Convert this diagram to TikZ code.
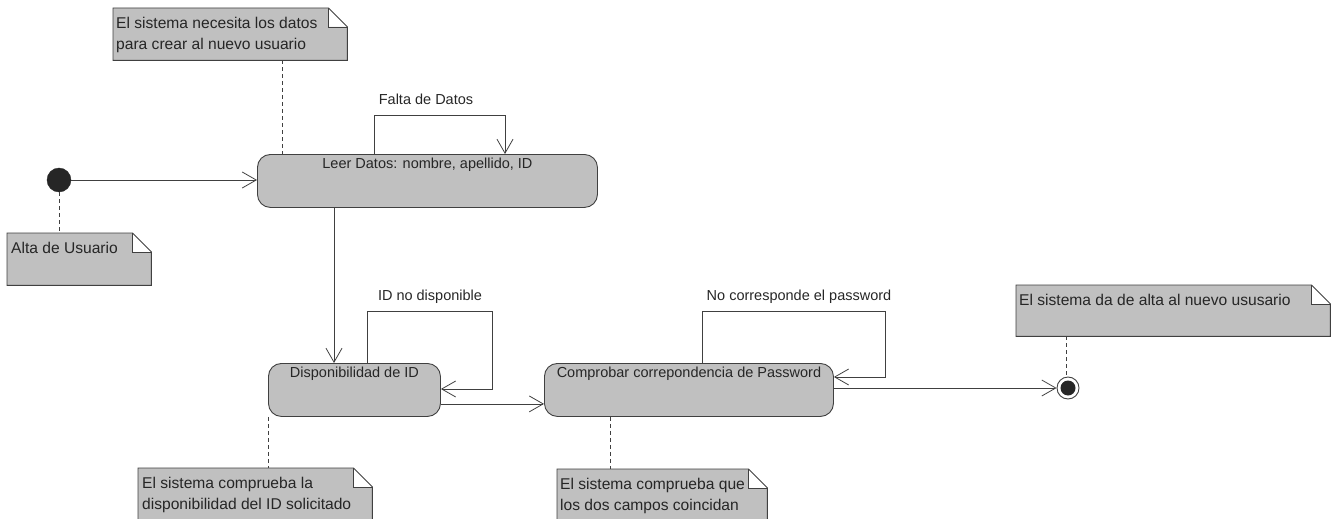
\documentclass[tikz,border=0pt]{standalone}
\usepackage{fontspec}
\setmainfont{Liberation Sans}
\usetikzlibrary{arrows.meta,calc}

\definecolor{stategray}{HTML}{C0C0C0}
\definecolor{edgegray}{HTML}{404040}
\definecolor{inkgray}{HTML}{262626}

% note with a folded top-right corner, drawn around an empty node
\newcommand\notefold[1]{%
  \path[fill=stategray] (#1.north west) -- ($(#1.north east)+(-19,0)$)
    -- ($(#1.north east)+(-19,19)$) -- ($(#1.north east)+(0,19)$)
    -- (#1.south east) -- (#1.south west) -- cycle;
  \draw[edgegray, line width=0.9pt] (#1.north west) -- ($(#1.north east)+(-19,0)$)
    -- ($(#1.north east)+(0,19)$) -- (#1.south east) -- (#1.south west) -- cycle;
  \draw[edgegray, line width=0.9pt] ($(#1.north east)+(-19,0)$) -- ++(0,19)
    -- ($(#1.north east)+(0,19)$);
}

\tikzset{
  x=1pt, y=-1pt,
  every node/.style={font=\fontsize{14.5}{20.5}\selectfont, text=inkgray},
  statebox/.style={draw=edgegray, fill=stategray, rounded corners=13pt, line width=0.9pt,
    inner xsep=0pt, inner ysep=4pt, text height=10pt, text depth=35pt, anchor=north west},
  notebox/.style={inner sep=0pt, anchor=north west},
  notetext/.style={anchor=north west, align=left, inner sep=0pt,
    font=\fontsize{15.6}{20.5}\selectfont},
  flow/.style={draw=edgegray, line width=0.8pt,
    -{Straight Barb[length=14pt,width=16pt,line width=0.8pt]}},
  anchorline/.style={draw=edgegray, line width=0.8pt, dash pattern=on 4pt off 3pt},
  edgelabel/.style={inner sep=0pt}
}

\begin{document}
\begin{tikzpicture}
\useasboundingbox (0,0) rectangle (1335,519);
\clip (0,0) rectangle (1335,519);

% notes
\node[notebox, minimum width=234pt, minimum height=52pt] (n1) at (113,8) {};
\node[notebox, minimum width=144pt, minimum height=52pt] (n2) at (7,233) {};
\node[notebox, minimum width=234pt, minimum height=60pt] (n3) at (138,468) {};
\node[notebox, minimum width=210pt, minimum height=60pt] (n4) at (557,469) {};
\node[notebox, minimum width=314pt, minimum height=51pt] (n5) at (1016,285) {};
\notefold{n1}
\notefold{n2}
\notefold{n3}
\notefold{n4}
\notefold{n5}
\node[notetext] (n1t) at ($(n1.north west)+(3,9)$) {\rule{0pt}{11pt}El sistema necesita los datos\\para crear al nuevo usuario};
\node[notetext] (n2t) at ($(n2.north west)+(4,9)$) {\rule{0pt}{11pt}Alta de Usuario};
\node[notetext] (n3t) at ($(n3.north west)+(4,9)$) {\rule{0pt}{11pt}El sistema comprueba la\\disponibilidad del ID solicitado};
\node[notetext] (n4t) at ($(n4.north west)+(3,9)$) {\rule{0pt}{11pt}El sistema comprueba que\\los dos campos coincidan};
\node[notetext] (n5t) at ($(n5.north west)+(3,9)$) {\rule{0pt}{11pt}El sistema da de alta al nuevo ususario};

% states
\node[statebox, minimum width=340pt] (leer) at (257,154) {Leer Datos: nombre, apellido, ID};
\node[statebox, minimum width=172pt] (disp) at (268,363) {Disponibilidad de ID};
\node[statebox, minimum width=289pt] (comp) at (544,363) {Comprobar correpondencia de Password};

% pseudo states
\node[circle, fill=inkgray, draw=inkgray, minimum size=24pt, inner sep=0pt] (init) at (59,180) {};
\node[circle, draw=edgegray, fill=white, line width=0.9pt, minimum size=22pt, inner sep=0pt] (fin) at (1068,388) {};
\node[circle, fill=inkgray, minimum size=15pt, inner sep=0pt] (fincore) at (fin.center) {};

% transitions
\draw[flow] (init.east) -- (init.east -| leer.west);
\draw[flow] ($(leer.south west)+(77,0)$) coordinate (ld) -- (ld |- disp.north);
\draw[flow] ($(disp.south east)+(0,-13)$) coordinate (dc) -- (dc -| comp.west);
\draw[flow] (comp.east |- fin.west) -- (fin.west);

% self transitions
\draw[flow] ($(leer.north west)+(117,0)$) -- ++(0,-39) -- ++(131,0) coordinate (lt) -- (lt |- leer.north);
\node[edgelabel] (l1) at (426,99) {Falta de Datos};
\draw[flow] ($(disp.north west)+(99,0)$) -- ++(0,-52) -- ++(125,0) -- ++(0,78) coordinate (dt) -- (dt -| disp.east);
\node[edgelabel] (l2) at (430,297) {ID no disponible};
\draw[flow] ($(comp.north west)+(158,0)$) -- ++(0,-52) -- ++(183,0) -- ++(0,66) coordinate (ct) -- (ct -| comp.east);
\node[edgelabel] (l3) at (799,297) {No corresponde el password};

% note anchors
\draw[anchorline] ($(n1.south west)+(169,0)$) coordinate (a1) -- (a1 |- leer.north);
\draw[anchorline] (init.south) -- (init.south |- n2.north);
\draw[anchorline] (disp.south west) -- (disp.south west |- n3.north);
\draw[anchorline] ($(comp.south west)+(66,0)$) coordinate (a4) -- (a4 |- n4.north);
\draw[anchorline] ($(n5.south west)+(50,0)$) coordinate (a5) -- (a5 |- fin.north);
\end{tikzpicture}
\end{document}
